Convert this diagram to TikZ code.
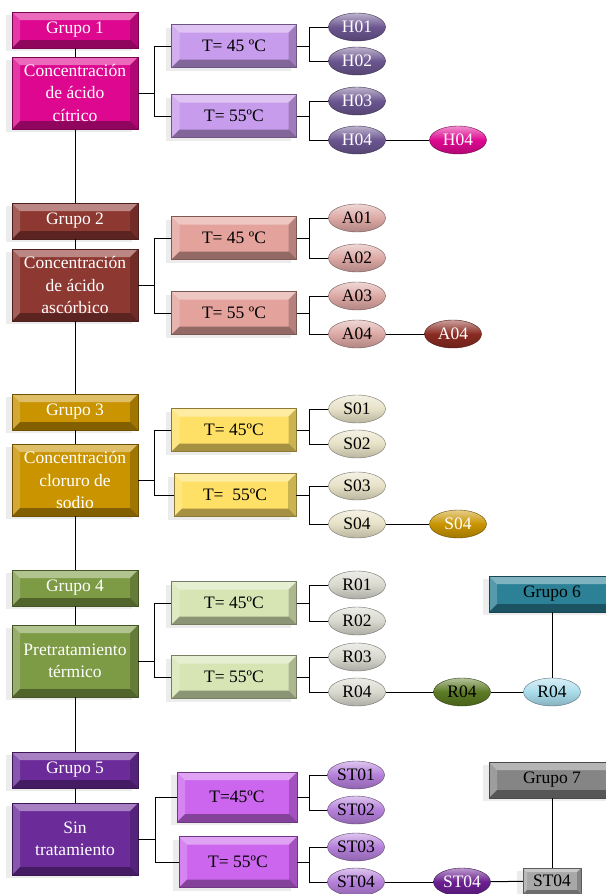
\documentclass[tikz,border=0pt]{standalone}
\usepackage{fontspec}
\setmainfont{Liberation Serif}
\usepackage{xcolor}
\usepackage{tikz}
\usetikzlibrary{shapes.geometric}
\usetikzlibrary{shadows}
\definecolor{magenta1}{HTML}{DE0890}
\definecolor{lila1}{HTML}{C89CEC}
\definecolor{morado1}{HTML}{6B5690}
\definecolor{granate2}{HTML}{8E3832}
\definecolor{salmon2}{HTML}{E3A29C}
\definecolor{rosa2}{HTML}{DCA8A4}
\definecolor{rojo2}{HTML}{8A2B22}
\definecolor{oro3}{HTML}{C99400}
\definecolor{amarillo3}{HTML}{FFE066}
\definecolor{crema3}{HTML}{E6E1C6}
\definecolor{verde4}{HTML}{7D9B45}
\definecolor{pistacho4}{HTML}{D7E5B4}
\definecolor{gris4}{HTML}{D8D8CE}
\definecolor{oliva4}{HTML}{5B7A23}
\definecolor{celeste6}{HTML}{A9DCEB}
\definecolor{azul6}{HTML}{2C8197}
\definecolor{violeta5}{HTML}{6B2C9A}
\definecolor{fucsia5}{HTML}{CC66EE}
\definecolor{lavanda5}{HTML}{B47FD9}
\definecolor{uva5}{HTML}{6A1F90}
\definecolor{plata7}{HTML}{A8A8A8}
\definecolor{gris7}{HTML}{858585}
\tikzset{
	bisel/.style={path picture={
		\coordinate (bnw) at (path picture bounding box.north west);
		\coordinate (bne) at (path picture bounding box.north east);
		\coordinate (bsw) at (path picture bounding box.south west);
		\coordinate (bse) at (path picture bounding box.south east);
		\fill[white,opacity=.4] (bnw)--(bne)--([shift={(-#1,-#1)}]bne)--([shift={(#1,-#1)}]bnw)--cycle;
		\fill[white,opacity=.2] (bnw)--([shift={(#1,-#1)}]bnw)--([shift={(#1,#1)}]bsw)--(bsw)--cycle;
		\fill[black,opacity=.35] (bsw)--([shift={(#1,#1)}]bsw)--([shift={(-#1,#1)}]bse)--(bse)--cycle;
		\fill[black,opacity=.2] (bse)--([shift={(-#1,#1)}]bse)--([shift={(-#1,-#1)}]bne)--(bne)--cycle;
	}},
	bisel/.default=8pt,
	caja/.style={draw=#1!55!black,fill=#1,bisel,align=center,inner sep=1pt,
		drop shadow={shadow xshift=-6pt,shadow yshift=-3pt,opacity=.15},
		minimum width=126pt,minimum height=36pt},
	grupo/.style={caja=#1,text=white},
	conc/.style={caja=#1,text=white,minimum height=72pt},
	temp/.style={caja=#1,minimum width=125pt,minimum height=43pt},
	bola/.style={ellipse,draw=#1!50!black,top color=#1!45!white,bottom color=#1!80!black,
		middle color=#1,minimum width=57pt,minimum height=28pt,inner sep=0pt},
	linea/.style={line width=1pt}
}

\begin{document}
\begin{tikzpicture}[x=1pt,y=-1pt,font=\fontsize{17.5}{22.5}\selectfont]
	\useasboundingbox (0,0) rectangle (605,894);
	\node[grupo=magenta1] (g1) at (75,30) {Grupo 1};
	\node[conc=magenta1] (c1) at (75,93) {Concentración\\de ácido\\cítrico};
	\node[temp=lila1] (t1a) at (234,46) {T= 45 ºC};
	\node[temp=lila1] (t1b) at (234,116) {T= 55ºC};
	\node[bola=morado1,text=white] (h1) at (357,27) {H01};
	\node[bola=morado1,text=white] (h2) at (357,61) {H02};
	\node[bola=morado1,text=white] (h3) at (357,101) {H03};
	\node[bola=morado1,text=white] (h4) at (357,140) {H04};
	\node[bola=magenta1,text=white] (h4b) at (458,140) {H04};

	\node[grupo=granate2] (g2) at (75,221) {Grupo 2};
	\node[conc=granate2] (c2) at (75,285) {Concentración\\de ácido\\ascórbico};
	\node[temp=salmon2] (t2a) at (234,238) {T= 45 ºC};
	\node[temp=salmon2] (t2b) at (234,313) {T= 55 ºC};
	\node[bola=rosa2] (a1) at (357,218) {A01};
	\node[bola=rosa2] (a2) at (357,258) {A02};
	\node[bola=rosa2] (a3) at (357,296) {A03};
	\node[bola=rosa2] (a4) at (357,334) {A04};
	\node[bola=rojo2,text=white] (a4b) at (453,334) {A04};

	\node[grupo=oro3] (g3) at (75,412) {Grupo 3};
	\node[conc=oro3] (c3) at (75,480) {Concentración\\cloruro de\\sodio};
	\node[temp=amarillo3] (t3a) at (234,430) {T= 45ºC};
	\node[temp=amarillo3,minimum width=122pt] (t3b) at (235,495) {T=\ \ 55ºC};
	\node[bola=crema3] (s1) at (357,409) {S01};
	\node[bola=crema3] (s2) at (357,444) {S02};
	\node[bola=crema3] (s3) at (357,486) {S03};
	\node[bola=crema3] (s4) at (357,524) {S04};
	\node[bola=oro3,text=white] (s4b) at (458,524) {S04};

	\node[grupo=verde4] (g4) at (75,588) {Grupo 4};
	\node[conc=verde4] (c4) at (75,661) {Pretratamiento\\térmico};
	\node[temp=pistacho4] (t4a) at (234,603) {T= 45ºC};
	\node[temp=pistacho4] (t4b) at (234,677) {T= 55ºC};
	\node[bola=gris4] (r1) at (357,585) {R01};
	\node[bola=gris4] (r2) at (357,621) {R02};
	\node[bola=gris4] (r3) at (357,657) {R03};
	\node[bola=gris4] (r4) at (357,692) {R04};
	\node[bola=oliva4] (r4b) at (462,692) {R04};
	\node[bola=celeste6] (r4c) at (552,692) {R04};
	\node[caja=azul6] (g6) at (552,594) {Grupo 6};

	\node[grupo=violeta5] (g5) at (75,770) {Grupo 5};
	\node[conc=violeta5] (c5) at (75,839) {Sin\\tratamiento};
	\node[temp=fucsia5,minimum width=120pt,minimum height=50pt] (t5a) at (237,797) {T=45ºC};
	\node[temp=fucsia5,minimum width=118pt,minimum height=51pt] (t5b) at (238,862) {T= 55ºC};
	\node[bola=lavanda5] (st1) at (356,775) {ST01};
	\node[bola=lavanda5] (st2) at (356,810) {ST02};
	\node[bola=lavanda5] (st3) at (356,847) {ST03};
	\node[bola=lavanda5] (st4) at (356,882) {ST04};
	\node[bola=uva5,text=white] (st4b) at (462,882) {ST04};
	\node[caja=plata7,bisel=4pt,minimum width=58pt,minimum height=26pt] (st4c) at (552,881) {ST04};
	\node[caja=gris7] (g7) at (552,780) {Grupo 7};

	\draw[linea] (g1)--(c1); \draw[linea] (c1)--(g2); \draw[linea] (g2)--(c2);
	\draw[linea] (c2)--(g3); \draw[linea] (g3)--(c3); \draw[linea] (c3)--(g4);
	\draw[linea] (g4)--(c4); \draw[linea] (c4)--(g5); \draw[linea] (g5)--(c5);

	\draw[linea] (c1.east)--++(16,0) |- (t1a.west);
	\draw[linea] (c1.east)--++(16,0) |- (t1b.west);
	\draw[linea] (t1a.east)--++(13,0) |- (h1.west);
	\draw[linea] (t1a.east)--++(13,0) |- (h2.west);
	\draw[linea] (t1b.east)--++(13,0) |- (h3.west);
	\draw[linea] (t1b.east)--++(13,0) |- (h4.west);
	\draw[linea] (h4)--(h4b);

	\draw[linea] (c2.east)--++(16,0) |- (t2a.west);
	\draw[linea] (c2.east)--++(16,0) |- (t2b.west);
	\draw[linea] (t2a.east)--++(13,0) |- (a1.west);
	\draw[linea] (t2a.east)--++(13,0) |- (a2.west);
	\draw[linea] (t2b.east)--++(13,0) |- (a3.west);
	\draw[linea] (t2b.east)--++(13,0) |- (a4.west);
	\draw[linea] (a4)--(a4b);

	\draw[linea] (c3.east)--++(16,0) |- (t3a.west);
	\draw[linea] (c3.east)--++(16,0) |- (t3b.west);
	\draw[linea] (t3a.east)--++(13,0) |- (s1.west);
	\draw[linea] (t3a.east)--++(13,0) |- (s2.west);
	\draw[linea] (t3b.east)--++(13,0) |- (s3.west);
	\draw[linea] (t3b.east)--++(13,0) |- (s4.west);
	\draw[linea] (s4)--(s4b);

	\draw[linea] (c4.east)--++(16,0) |- (t4a.west);
	\draw[linea] (c4.east)--++(16,0) |- (t4b.west);
	\draw[linea] (t4a.east)--++(13,0) |- (r1.west);
	\draw[linea] (t4a.east)--++(13,0) |- (r2.west);
	\draw[linea] (t4b.east)--++(13,0) |- (r3.west);
	\draw[linea] (t4b.east)--++(13,0) |- (r4.west);
	\draw[linea] (r4)--(r4b); \draw[linea] (r4b)--(r4c); \draw[linea] (g6)--(r4c);

	\draw[linea] (c5.east)--++(17,0) |- (t5a.west);
	\draw[linea] (c5.east)--++(17,0) |- (t5b.west);
	\draw[linea] (t5a.east)--++(12,0) |- (st1.west);
	\draw[linea] (t5a.east)--++(12,0) |- (st2.west);
	\draw[linea] (t5b.east)--++(12,0) |- (st3.west);
	\draw[linea] (t5b.east)--++(12,0) |- (st4.west);
	\draw[linea] (st4)--(st4b); \draw[linea] (st4b)--(st4c); \draw[linea] (g7)--(st4c);
\end{tikzpicture}
\end{document}
